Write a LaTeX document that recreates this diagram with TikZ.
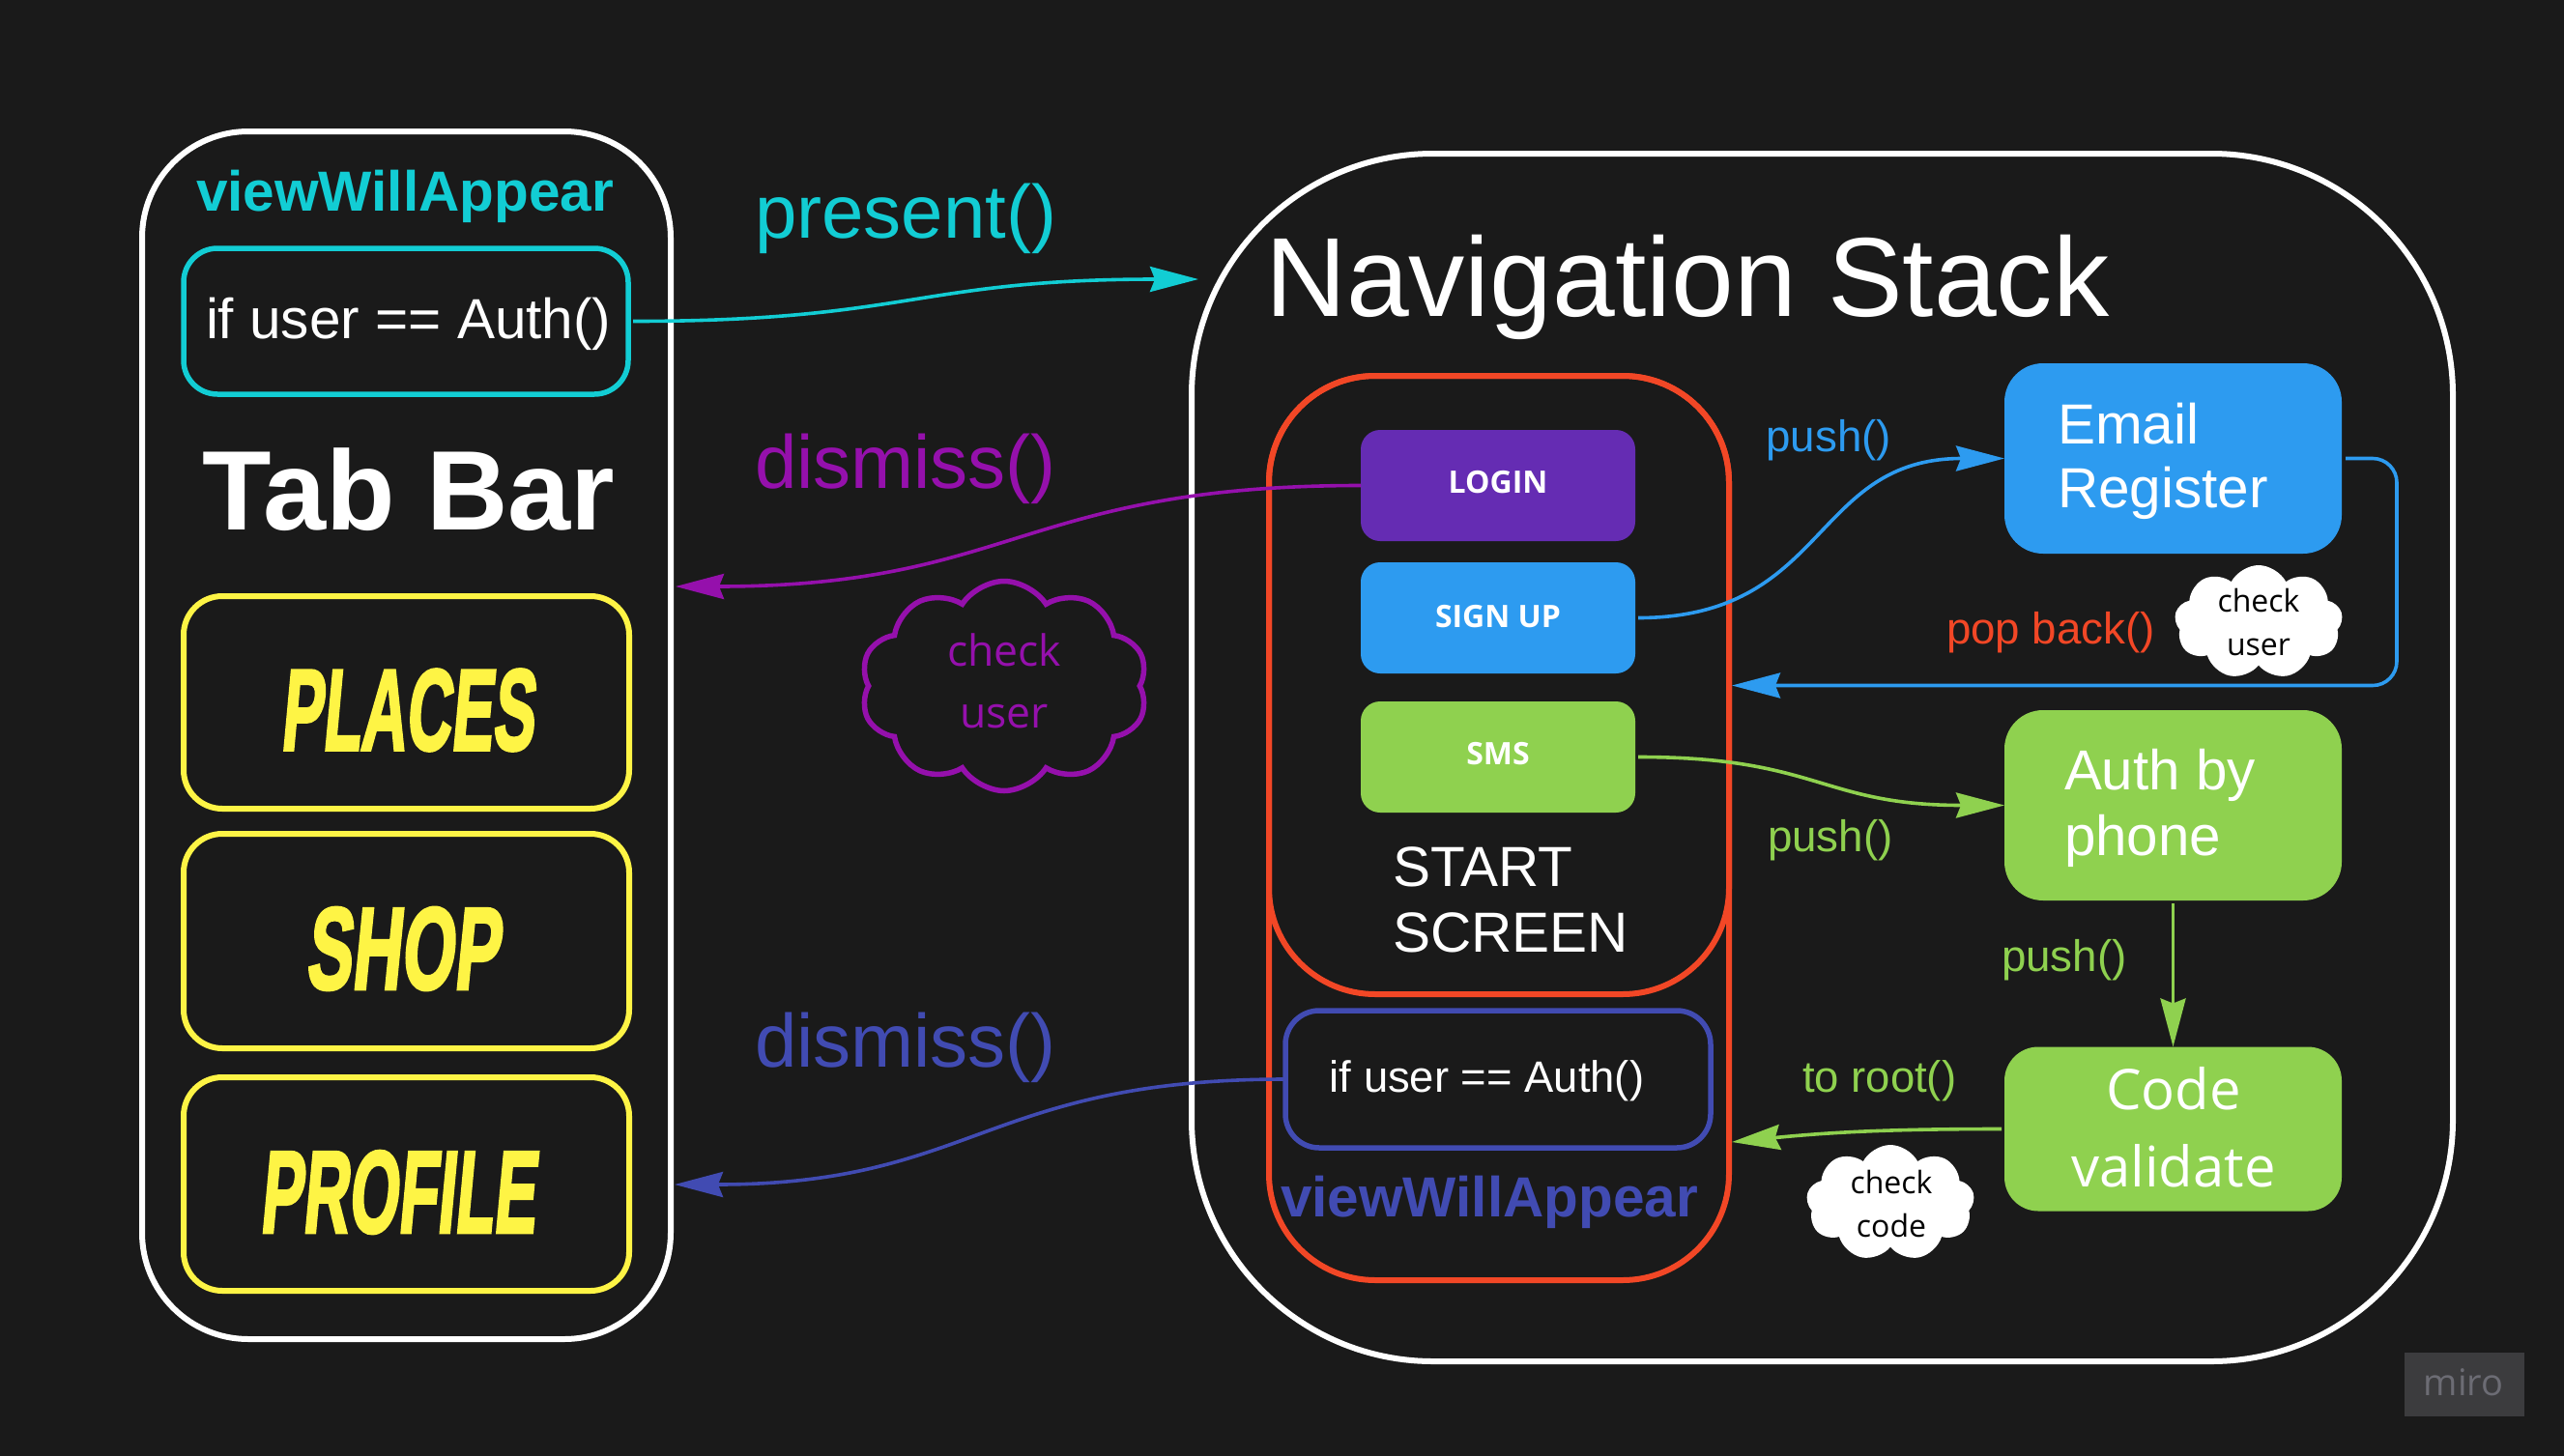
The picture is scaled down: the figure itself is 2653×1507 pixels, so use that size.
\documentclass[tikz,border=0pt]{standalone}
\usepackage{fontspec}
\usepackage{graphicx}
\usetikzlibrary{arrows.meta,shapes.symbols}
\setmainfont{Liberation Sans}
\newfontfamily\opensans{Open Sans}
\newfontfamily\comicfont[FakeSlant=0.17,FakeBold=3]{Liberation Sans}
\newcommand\fs[1]{\fontsize{#1}{#1}\selectfont}
\newcommand\comic[3]{\resizebox{#2pt}{#3pt}{\comicfont\bfseries #1}}
\definecolor{bgc}{HTML}{1A1A1A}
\definecolor{teal}{HTML}{12CDD4}
\definecolor{purp}{HTML}{9510AC}
\definecolor{indi}{HTML}{414BB2}
\definecolor{yell}{HTML}{FEF445}
\definecolor{redo}{HTML}{F24726}
\definecolor{blu}{HTML}{2D9BF0}
\definecolor{gre}{HTML}{8FD14F}
\definecolor{dpur}{HTML}{652CB3}
\definecolor{mirobg}{HTML}{3C3C3E}
\definecolor{mirotx}{HTML}{6C6C74}
\tikzset{
  rbox/.style={rectangle,inner sep=0pt,outer sep=0pt},
  lbl/.style={inner sep=0pt,outer sep=0pt,anchor=base west},
  lblc/.style={inner sep=0pt,outer sep=0pt,anchor=base},
  conn/.style={line width=3.6pt,-{Stealth[length=50pt,width=26pt,inset=5pt]}},
  puff/.style={cloud,cloud puffs=10,cloud puff arc=115,aspect=1.35,inner sep=0pt,outer sep=0pt},
  puffw/.style={cloud,cloud puffs=9,cloud puff arc=125,aspect=1.35,inner sep=0pt,outer sep=0pt},
  btn/.style={rbox,rounded corners=20pt,minimum width=284pt,minimum height=115pt,text=white},
  btnt/.style={lblc,text=white,font=\opensans\bfseries\fs{32}},
}
\begin{document}
\begin{tikzpicture}[x=1pt,y=-1pt]
\path[use as bounding box,fill=bgc] (0,0) rectangle (2653,1507);

% Tab bar
\node[rbox,draw=white,line width=6pt,rounded corners=110pt,minimum width=547pt,minimum height=1250pt] (tab) at (420.5,761) {};
\node[lblc,text=teal,font=\bfseries\fs{58.5}] (tabvwa) at (419,218) {viewWillAppear};
\node[rbox,draw=teal,line width=5.5pt,rounded corners=35pt,minimum width=460pt,minimum height=151pt] (tealbox) at (420,332.5) {};
\node[lbl,text=white,font=\fs{58.5}] (tabif) at (213,350) {if user == Auth()};
\node[lbl,text=white,font=\bfseries\fs{117}] (tabtitle) at (209.5,548) {Tab Bar};
\node[rbox,draw=yell,line width=6pt,rounded corners=40pt,minimum width=461pt,minimum height=220pt,text=yell] (places) at (420.5,727) {};
\node[rbox,draw=yell,line width=6pt,rounded corners=40pt,minimum width=461pt,minimum height=222pt,text=yell] (shop) at (420.5,974) {};
\node[rbox,draw=yell,line width=6pt,rounded corners=40pt,minimum width=461pt,minimum height=221pt,text=yell] (profile) at (420.5,1225.5) {};
\node[inner sep=0pt,text=yell] (placest) at (421,735) {\comic{PLACES}{262}{83}};
\node[inner sep=0pt,text=yell] (shopt) at (416,982) {\comic{SHOP}{200}{84}};
\node[inner sep=0pt,text=yell] (profilet) at (411,1234) {\comic{PROFILE}{285}{84}};

% Labels between the panels
\node[lbl,text=teal,font=\fs{78}] (lpresent) at (781,246) {present()};
\node[lbl,text=purp,font=\fs{78}] (ldismiss) at (781,505) {dismiss()};
\node[lbl,text=indi,font=\fs{78}] (ldismissb) at (781,1104) {dismiss()};
\node[puff,draw=purp,line width=5.5pt,minimum width=297pt,minimum height=217pt] (cloudp) at (1039,710) {};
\node[lblc,text=purp,font=\opensans\fs{44.5}] (cpa) at (1039,689) {check};
\node[lblc,text=purp,font=\opensans\fs{44.5}] (cpb) at (1039,753) {user};

% Navigation stack
\node[rbox,draw=white,line width=6pt,rounded corners=250pt,minimum width=1305pt,minimum height=1250pt] (nav) at (1885.5,784) {};
\node[lbl,text=white,font=\fs{116.4}] (navtitle) at (1309,327) {Navigation Stack};
\node[rbox,draw=redo,line width=6pt,rounded corners=110pt,minimum width=476pt,minimum height=936pt] (redouter) at (1551,857) {};
\node[rbox,draw=redo,line width=6pt,rounded corners=110pt,minimum width=476pt,minimum height=640pt] (redinner) at (1551,709) {};
\node[btn,fill=dpur] (login) at (1550,502.5) {};
\node[btn,fill=blu] (signup) at (1550,639.5) {};
\node[btn,fill=gre] (sms) at (1550,783.5) {};
\node[btnt] (logint) at (1550,510) {LOGIN};
\node[btnt] (signupt) at (1550,649) {SIGN UP};
\node[btnt] (smst) at (1550,791) {SMS};
\node[lbl,text=white,font=\fs{58.5}] (starta) at (1441,917) {START};
\node[lbl,text=white,font=\fs{58.5}] (startb) at (1441,985) {SCREEN};
\node[rbox,draw=indi,line width=5.5pt,rounded corners=35pt,minimum width=440pt,minimum height=142pt] (ifbox) at (1550,1117) {};
\node[lblc,text=white,font=\fs{45.4}] (ift) at (1538.5,1130) {if user == Auth()};
\node[lblc,text=indi,font=\bfseries\fs{58.5}] (navvwa) at (1541,1259) {viewWillAppear};

\node[rbox,fill=blu,rounded corners=40pt,minimum width=349pt,minimum height=197pt] (email) at (2248.5,474.5) {};
\node[lbl,text=white,font=\fs{58.5}] (emaila) at (2129,459) {Email};
\node[lbl,text=white,font=\fs{58.5}] (emailb) at (2129,525) {Register};
\node[rbox,fill=gre,rounded corners=40pt,minimum width=349pt,minimum height=197pt] (auth) at (2248.5,833.5) {};
\node[lbl,text=white,font=\fs{58.3}] (autha) at (2136,817) {Auth by};
\node[lbl,text=white,font=\fs{58.3}] (authb) at (2136,885) {phone};
\node[rbox,fill=gre,rounded corners=35pt,minimum width=349pt,minimum height=170pt] (code) at (2248.5,1168.5) {};
\node[lblc,text=white,font=\opensans\fs{58}] (codea) at (2249,1148) {Code};
\node[lblc,text=white,font=\opensans\fs{58}] (codeb) at (2249,1228.5) {validate};

\node[lbl,text=blu,font=\fs{45.7}] (lpushb) at (1827.5,467) {push()};
\node[lbl,text=redo,font=\fs{45.7}] (lpop) at (2014,666) {pop back()};
\node[lbl,text=gre,font=\fs{45.7}] (lpushg) at (1829,881) {push()};
\node[lbl,text=gre,font=\fs{45.7}] (lpushd) at (2071,1005) {push()};
\node[lbl,text=gre,font=\fs{45.5}] (lroot) at (1865,1130) {to root()};

\node[puffw,fill=white,minimum width=174pt,minimum height=118pt] (cloudw) at (2337,644) {};
\node[lblc,text=black,font=\opensans\fs{32}] (cwa) at (2337,633) {check};
\node[lblc,text=black,font=\opensans\fs{32}] (cwb) at (2337,678) {user};
\node[puffw,fill=white,minimum width=174pt,minimum height=120pt] (cloudc) at (1956,1245) {};
\node[lblc,text=black,font=\opensans\fs{32}] (cca) at (1957,1235) {check};
\node[lblc,text=black,font=\opensans\fs{32}] (ccb) at (1957,1280) {code};

% Watermark
\node[rbox,fill=mirobg,minimum width=124pt,minimum height=66pt] (miro) at (2550,1433) {};
\node[lblc,text=mirotx,font=\opensans\fs{38}] (mirot) at (2549,1444) {miro};

% Free ends on the panel borders
\coordinate (navin) at (1240,289);
\coordinate (tabinp) at (699,607);
\coordinate (tabini) at (698,1226);
\coordinate (popin) at (1792,709.5);
\coordinate (loopr) at (2480,709.5);
\coordinate (rootin) at (1792,1182);

% Connectors
\draw[conn,draw=teal,shorten <=5pt] (tealbox.east) .. controls +(290,0) and +(-290,0) .. (navin);
\draw[conn,draw=purp] (login.west) .. controls +(-350,0) and +(350,0) .. (tabinp);
\draw[conn,draw=indi] (ifbox.west) .. controls +(-310,0) and +(310,0) .. (tabini);
\draw[conn,draw=blu,shorten <=3pt] (signup.east) .. controls +(200,0) and +(-200,0) .. (email.west);
\draw[conn,draw=gre,shorten <=3pt] (sms.east) .. controls +(190,0) and +(-190,0) .. (auth.west);
\draw[conn,draw=gre,shorten <=3pt] (auth.south) -- (code.north);
\draw[conn,draw=gre,shorten <=3pt] (code.west) .. controls +(-120,0) and +(100,-10) .. (rootin);
\draw[conn,draw=blu,rounded corners=25pt,shorten <=4pt] (email.east) -| (loopr) -- (popin);
\end{tikzpicture}
\end{document}
